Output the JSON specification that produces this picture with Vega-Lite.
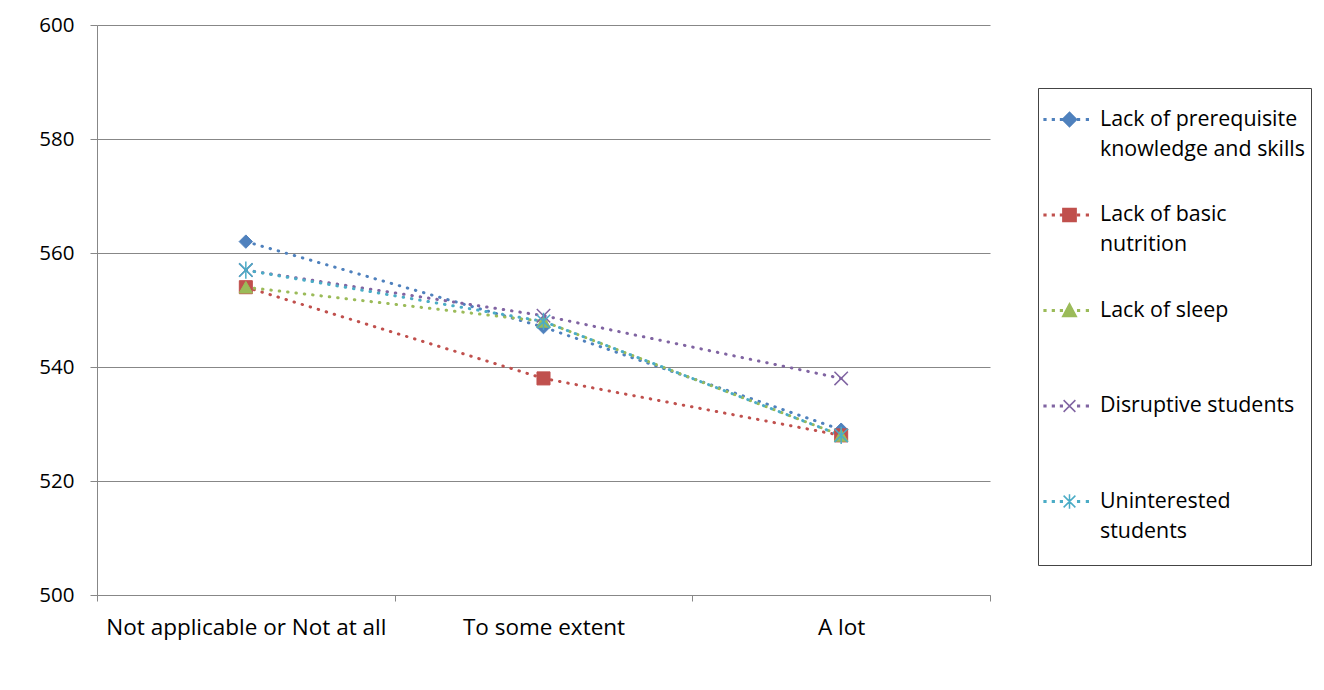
{
  "$schema": "https://vega.github.io/schema/vega-lite/v6.json",
  "autosize": "none",
  "width": 893,
  "height": 570,
  "padding": {"left": 97, "top": 25, "right": 334, "bottom": 95},
  "background": "white",
  "config": {
    "view": {"stroke": null},
    "font": "Open Sans",
    "axis": {"labelFont": "Open Sans", "labelFontSize": 20.5, "labelColor": "#000000", "domainColor": "#878787", "tickColor": "#878787", "gridColor": "#878787", "domainWidth": 1, "tickWidth": 1, "gridWidth": 1}
  },
  "data": {
    "values": [
      {"series": "Lack of prerequisite knowledge and skills", "extent": "Not applicable or Not at all", "score": 562},
      {"series": "Lack of prerequisite knowledge and skills", "extent": "To some extent", "score": 547},
      {"series": "Lack of prerequisite knowledge and skills", "extent": "A lot", "score": 529},
      {"series": "Lack of basic nutrition", "extent": "Not applicable or Not at all", "score": 554},
      {"series": "Lack of basic nutrition", "extent": "To some extent", "score": 538},
      {"series": "Lack of basic nutrition", "extent": "A lot", "score": 528},
      {"series": "Lack of sleep", "extent": "Not applicable or Not at all", "score": 554},
      {"series": "Lack of sleep", "extent": "To some extent", "score": 548},
      {"series": "Lack of sleep", "extent": "A lot", "score": 528},
      {"series": "Disruptive students", "extent": "Not applicable or Not at all", "score": 557},
      {"series": "Disruptive students", "extent": "To some extent", "score": 549},
      {"series": "Disruptive students", "extent": "A lot", "score": 538},
      {"series": "Uninterested students", "extent": "Not applicable or Not at all", "score": 557},
      {"series": "Uninterested students", "extent": "To some extent", "score": 548},
      {"series": "Uninterested students", "extent": "A lot", "score": 528}
    ]
  },
  "encoding": {
    "x": {
      "field": "extent", "type": "nominal",
      "sort": ["Not applicable or Not at all", "To some extent", "A lot"],
      "scale": {"paddingInner": 0, "paddingOuter": 0},
      "axis": {"title": null, "labelAngle": 0, "tickBand": "extent", "tickSize": 6, "labelPadding": 15, "labelBaseline": "top", "labelLimit": 400, "labelFontSize": 22.5, "grid": false}
    },
    "y": {
      "field": "score", "type": "quantitative",
      "scale": {"domain": [500, 600], "nice": false, "zero": false},
      "axis": {"title": null, "values": [500, 520, 540, 560, 580, 600], "tickSize": 7, "labelPadding": 16, "grid": true}
    },
    "color": {
      "field": "series", "type": "nominal",
      "scale": {
        "domain": ["Lack of prerequisite knowledge and skills", "Lack of basic nutrition", "Lack of sleep", "Disruptive students", "Uninterested students"],
        "range": ["#4F81BD", "#C0504D", "#9BBB59", "#8064A2", "#4BACC6"]
      },
      "legend": {
        "title": null,
        "orient": "none",
        "legendX": 941,
        "legendY": 63,
        "strokeColor": "#444444",
        "padding": 6,
        "symbolSize": 2401,
        "symbolStrokeWidth": 1.5,
        "labelFont": "Open Sans",
        "labelFontSize": 21.4,
        "labelColor": "#000000",
        "labelLimit": 300,
        "labelOffset": 5,
        "labelBaseline": "middle",
        "rowPadding": 29.5,
        "labelExpr": "datum.label == 'Lack of prerequisite knowledge and skills' ? ['Lack of prerequisite','knowledge and skills'] : datum.label == 'Lack of basic nutrition' ? ['Lack of basic','nutrition'] : datum.label == 'Uninterested students' ? ['Uninterested','students'] : [datum.label, '']",
        "encode": {
          "labels": {"update": {"lineHeight": {"value": 30}}},
          "symbols": {
            "update": {
              "fill": {"scale": "color", "field": "value"},
              "stroke": {"scale": "color", "field": "value"},
              "opacity": {"value": 1},
              "shape": {"signal": "(datum.value == 'Lack of prerequisite knowledge and skills' ? 'M0,-0.29L0.29,0L0,0.29L-0.29,0Z' : datum.value == 'Lack of basic nutrition' ? 'M-0.27,-0.27h0.54v0.54h-0.54Z' : datum.value == 'Lack of sleep' ? 'M0,-0.28L0.28,0.24L-0.28,0.24Z' : datum.value == 'Disruptive students' ? 'M-0.24,-0.24L0.24,0.24M-0.24,0.24L0.24,-0.24' : 'M-0.24,-0.24L0.24,0.24M-0.24,0.24L0.24,-0.24M0,-0.3L0,0.3') + 'M-1.035,-0.035h0.07v0.07h-0.07ZM-0.695,-0.035h0.07v0.07h-0.07ZM-0.365,-0.035h0.07v0.07h-0.07ZM0.335,-0.035h0.07v0.07h-0.07ZM0.695,-0.035h0.07v0.07h-0.07Z' + (datum.value == 'Uninterested students' ? 'M0,2.2' : '')"}
            }
          }
        }
      }
    }
  },
  "layer": [
    {
      "mark": {"type": "line", "strokeWidth": 3, "strokeDash": [0.5, 7.9], "strokeCap": "round"}
    },
    {
      "transform": [{"filter": "datum.series == 'Lack of prerequisite knowledge and skills'"}],
      "mark": {"type": "point", "filled": true, "opacity": 1, "size": 180, "strokeWidth": 1, "shape": "diamond"},
      "encoding": {"stroke": {"field": "series", "type": "nominal", "scale": {"domain": ["Lack of prerequisite knowledge and skills", "Lack of basic nutrition", "Lack of sleep", "Disruptive students", "Uninterested students"], "range": ["#4F81BD", "#C0504D", "#9BBB59", "#8064A2", "#4BACC6"]}, "legend": null}}
    },
    {
      "transform": [{"filter": "datum.series == 'Lack of basic nutrition'"}],
      "mark": {"type": "point", "filled": true, "opacity": 1, "size": 170, "strokeWidth": 1, "shape": "square"},
      "encoding": {"stroke": {"field": "series", "type": "nominal", "legend": null}}
    },
    {
      "transform": [{"filter": "datum.series == 'Lack of sleep'"}],
      "mark": {"type": "point", "filled": true, "opacity": 1, "size": 180, "strokeWidth": 1, "shape": "triangle-up"},
      "encoding": {"stroke": {"field": "series", "type": "nominal", "legend": null}}
    },
    {
      "transform": [{"filter": "datum.series == 'Disruptive students'"}],
      "mark": {"type": "point", "filled": true, "opacity": 1, "size": 180, "strokeWidth": 1.5, "shape": "M-1,-1L1,1M-1,1L1,-1"},
      "encoding": {"stroke": {"field": "series", "type": "nominal", "legend": null}}
    },
    {
      "transform": [{"filter": "datum.series == 'Uninterested students'"}],
      "mark": {"type": "point", "filled": true, "opacity": 1, "size": 180, "strokeWidth": 1.5, "shape": "M-1,-1L1,1M-1,1L1,-1M0,-1.3L0,1.3"},
      "encoding": {"stroke": {"field": "series", "type": "nominal", "legend": null}}
    }
  ]
}
